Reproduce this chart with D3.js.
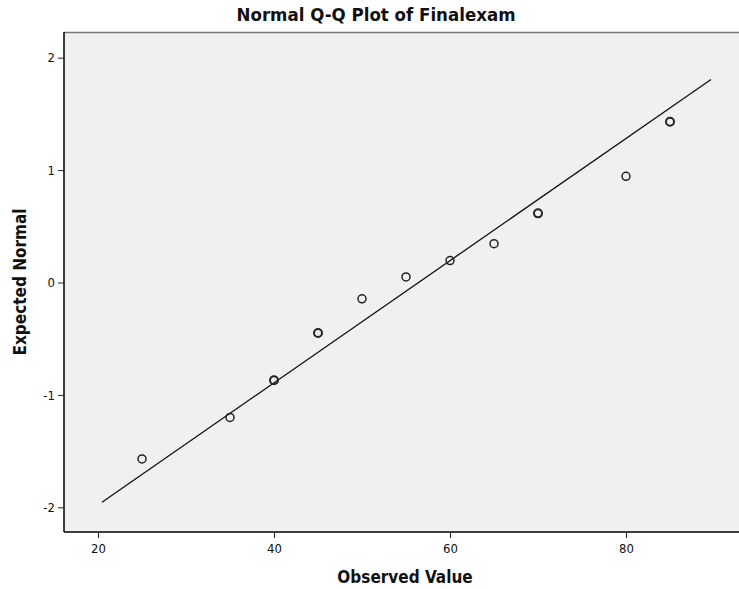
<!DOCTYPE html>
<html>
<head>
<meta charset="utf-8">
<script src="https://cdn.jsdelivr.net/npm/d3@7"></script>
<style>
  body { margin: 0; background: #fff; }
  text { font-family: "DejaVu Sans Condensed", "Liberation Sans", sans-serif; fill: #111; }
</style>
</head>
<body>
<div class="chart"></div>
<script>
// observed scores and their expected normal values
const observed = [25, 35, 40, 45, 50, 55, 60, 65, 70, 80, 85];
const expected = [-1.57, -1.20, -0.87, -0.45, -0.145, 0.05, 0.195, 0.345, 0.615, 0.945, 1.43];
// points drawn twice (tied scores) look heavier
const repeated = [1, 1, 2, 2, 1, 1, 1, 1, 2, 1, 2];

// reference line ends
const lineX = [20.45, 89.66];
const lineY = [-1.955, 1.806];

const xTicks = [20, 40, 60, 80];
const yTicks = [-2, -1, 0, 1, 2];

const width = 739, height = 589;
const plot = { left: 64, top: 32, right: 746, bottom: 532 };

const x = d3.scaleLinear().domain([20, 80]).range([98, 626]);
const y = d3.scaleLinear().domain([-2, 2]).range([507.3, 57.7]);

const svg = d3.select(".chart").append("svg")
    .attr("width", width)
    .attr("height", height);

svg.append("rect")
    .attr("x", plot.left).attr("y", plot.top)
    .attr("width", plot.right - plot.left).attr("height", plot.bottom - plot.top)
    .attr("fill", "#f0f0f0");

// top border is grey, left/bottom are axis lines
svg.append("line")
    .attr("x1", plot.left).attr("x2", plot.right)
    .attr("y1", plot.top + 0.5).attr("y2", plot.top + 0.5)
    .attr("stroke", "#777").attr("stroke-width", 1.5);

const xAxis = svg.append("g")
    .attr("transform", `translate(0,${plot.bottom})`)
    .call(d3.axisBottom(x).tickValues(xTicks).tickSize(6).tickPadding(6));
xAxis.select(".domain").attr("d", `M${plot.left},0H${plot.right}`).attr("stroke-width", 1.5);

const yAxis = svg.append("g")
    .attr("transform", `translate(${plot.left},0)`)
    .call(d3.axisLeft(y).tickValues(yTicks).tickSize(6).tickPadding(3).tickFormat(d => String(d)));
yAxis.select(".domain").attr("d", `M0,${plot.top}V${plot.bottom}`).attr("stroke-width", 1.5);

svg.selectAll(".tick text").attr("font-size", 13).attr("fill", "#222")
    .style("font-family", '"DejaVu Sans Condensed", sans-serif');
svg.selectAll(".tick line").attr("stroke", "#222");

svg.append("line")
    .attr("x1", x(lineX[0])).attr("y1", y(lineY[0]))
    .attr("x2", x(lineX[1])).attr("y2", y(lineY[1]))
    .attr("stroke", "#111").attr("stroke-width", 1.3);

svg.append("g").selectAll("circle")
    .data(observed.map((v, i) => ({ v: v, e: expected[i], n: repeated[i] })))
    .join("circle")
    .attr("cx", d => x(d.v))
    .attr("cy", d => y(d.e))
    .attr("r", 4)
    .attr("fill", "none")
    .attr("stroke", "#222")
    .attr("stroke-width", d => d.n > 1 ? 2 : 1.5);

svg.append("text")
    .attr("x", 376).attr("y", 21)
    .attr("text-anchor", "middle")
    .attr("font-size", 18.5).attr("font-weight", "bold")
    .text("Normal Q-Q Plot of Finalexam");

svg.append("text")
    .attr("x", 405).attr("y", 583)
    .attr("text-anchor", "middle")
    .attr("font-size", 17).attr("font-weight", "bold")
    .text("Observed Value");

svg.append("text")
    .attr("transform", "translate(26,282) rotate(-90)")
    .attr("text-anchor", "middle")
    .attr("font-size", 17).attr("font-weight", "bold")
    .text("Expected Normal");
</script>
</body>
</html>
